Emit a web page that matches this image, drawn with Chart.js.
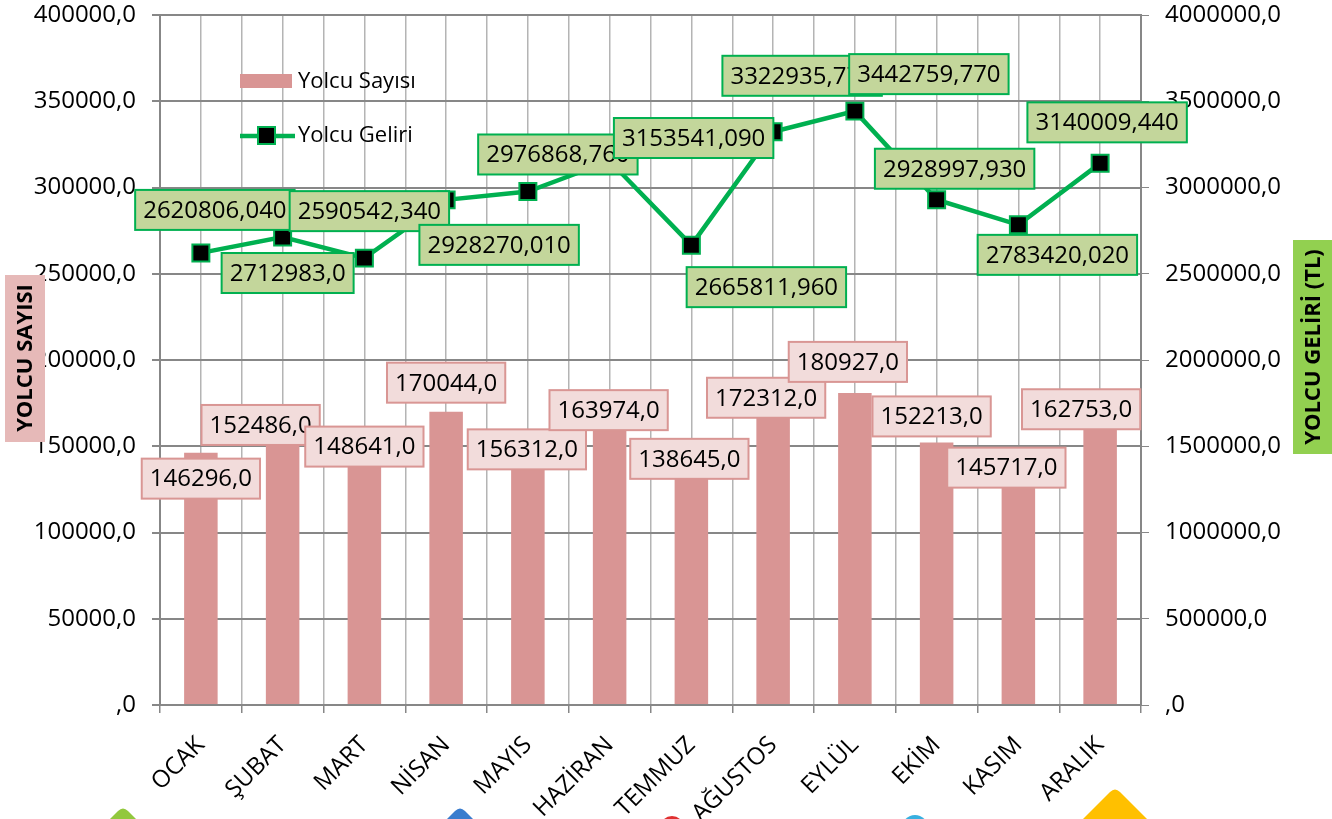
<!DOCTYPE html>
<html>
<head>
<meta charset="utf-8">
<script src="https://cdn.jsdelivr.net/npm/chart.js@4.4.1/dist/chart.umd.min.js"></script>
<style>
body{margin:0;background:#fff;}
#kutu{width:1332px;height:819px;position:relative;}
</style>
</head>
<body>
<div id="kutu"><canvas id="grafik"></canvas></div>
<script>

/* VERILER */

let aylar=["OCAK","ŞUBAT","MART","NİSAN","MAYIS","HAZİRAN","TEMMUZ","AĞUSTOS","EYLÜL","EKİM","KASIM","ARALIK"];

let yolcuSayisi=[146296,152486,148641,170044,156312,163974,138645,172312,180927,152213,145717,162753];

let yolcuGeliri=[2620806.04,2712983,2590542.34,2928270.01,2976868.76,3153541.09,2665811.96,3322935.77,3442759.77,2928997.93,2783420.02,3140009.44];

/* ETIKET KAYDIRMALARI (px, noktaya gore) */

let sayiKaydir=[[0,26],[-22,-17],[0,-2],[0,-29],[-1,14],[-1,-12],[-2,-7],[-7,-10],[-7,-31],[-5,-26],[-12,14],[-19,-15]];
let gelirKaydir=[[14,-43],[5,36],[5,-47],[53,45],[30,-37],[84,-23],[75,42],[29,-56],[74,-37],[18,-31],[39,30],[7,-41]];

let FONT='"Open Sans", "Liberation Sans", sans-serif';

function virgul(v){
let s=v.toFixed(3);
if(s.endsWith(".000")) return (v===0?"":String(Math.round(v)))+",0";
return s.replace(".",",");
}

/* eksenlerin kendi bosluklarini sifirla */
function bosluksuz(s){
s.paddingTop=0;
s.paddingBottom=0;
s.paddingLeft=0;
s.paddingRight=0;
}

/* KUTULU ETIKETLER */

function kutular(chart,index,values,kaydir,dolgu,cizgi){
let ctx=chart.ctx;
let meta=chart.getDatasetMeta(index);
ctx.save();
ctx.font='24px '+FONT;
ctx.textAlign='center';
ctx.textBaseline='middle';
meta.data.forEach((el,i)=>{
let text=virgul(values[i]);
let w=ctx.measureText(text).width+16;
let h=40;
let cx=el.x+kaydir[i][0];
let cy=el.y+kaydir[i][1];
ctx.fillStyle=dolgu;
ctx.fillRect(cx-w/2,cy-h/2,w,h);
ctx.strokeStyle=cizgi;
ctx.lineWidth=2;
ctx.strokeRect(cx-w/2,cy-h/2,w,h);
ctx.fillStyle="#000";
ctx.fillText(text,cx,cy+1);
});
ctx.restore();
}

function ucgen(ctx,x,y,renk,d){
ctx.fillStyle=renk;
ctx.beginPath();
ctx.moveTo(x-d,y+d);
ctx.lineTo(x-5,y+5);
ctx.quadraticCurveTo(x,y,x+5,y+5);
ctx.lineTo(x+d,y+d);
ctx.closePath();
ctx.fill();
}

let eklenti={
id:"etiketler",
afterDatasetsDraw(chart){
kutular(chart,0,yolcuSayisi,sayiKaydir,"#f2dcdb","#d99694");
kutular(chart,1,yolcuGeliri,gelirKaydir,"#c3d69b","#00b050");
},
afterDraw(chart){
let ctx=chart.ctx;
let a=chart.chartArea;
ctx.save();

/* LEJANT */

ctx.font='22px '+FONT;
ctx.textBaseline='middle';
ctx.fillStyle="#d99594";
ctx.fillRect(a.left+80,a.top+59,52,14);
ctx.fillStyle="#000";
ctx.fillText("Yolcu Sayısı",a.left+138,a.top+67);
ctx.strokeStyle="#00b050";
ctx.lineWidth=4.5;
ctx.beginPath();
ctx.moveTo(a.left+80,a.top+121);
ctx.lineTo(a.left+135,a.top+121);
ctx.stroke();
ctx.fillStyle="#000";
ctx.fillRect(a.left+98,a.top+112,17,17);
ctx.lineWidth=2;
ctx.strokeRect(a.left+98,a.top+112,17,17);
ctx.fillStyle="#000";
ctx.fillText("Yolcu Geliri",a.left+138,a.top+121);

/* EKSEN BASLIKLARI */

ctx.font='bold 22px '+FONT;
ctx.textAlign='center';
ctx.fillStyle="#e6b9b8";
ctx.fillRect(5,275,40,167);
ctx.save();
ctx.translate(26,358);
ctx.rotate(-Math.PI/2);
ctx.fillStyle="#000";
ctx.fillText("YOLCU SAYISI",0,0);
ctx.restore();

ctx.fillStyle="#92d050";
ctx.fillRect(1293,240,45,214);
ctx.save();
ctx.translate(1314,347);
ctx.rotate(-Math.PI/2);
ctx.fillStyle="#000";
ctx.fillText("YOLCU GELİRİ (TL)",0,0);
ctx.restore();

/* SLAYT SUSLERI */

ucgen(ctx,123,806,"#92c83e",40);
ucgen(ctx,460,806,"#3a7dce",40);
ucgen(ctx,1115,787,"#ffc000",60);
ctx.fillStyle="#e03030";
ctx.beginPath();ctx.arc(672,828,12,0,Math.PI*2);ctx.fill();
ctx.fillStyle="#38b0e0";
ctx.beginPath();ctx.arc(915,828,13,0,Math.PI*2);ctx.fill();

ctx.restore();
}
};

Chart.defaults.font.family=FONT;
Chart.defaults.color="#000";

new Chart(document.getElementById("grafik"),{

type:'bar',

data:{
labels:aylar,
datasets:[
{
label:"Yolcu Sayısı",
data:yolcuSayisi,
backgroundColor:"#d99594",
barPercentage:0.41,
categoryPercentage:1,
yAxisID:"y",
order:1
},
{
type:'line',
label:"Yolcu Geliri",
data:yolcuGeliri,
borderColor:"#00b050",
borderWidth:4.5,
pointStyle:'rect',
pointRadius:12,
pointBackgroundColor:"#000",
pointBorderColor:"#00b050",
pointBorderWidth:2,
tension:0,
yAxisID:"y1",
order:0
}
]
},

options:{
responsive:true,
maintainAspectRatio:false,
animation:false,
layout:{padding:{top:15,left:0,right:0,bottom:0}},
plugins:{
legend:{display:false},
tooltip:{enabled:false}
},
scales:{
x:{
type:'category',
position:'bottom',
offset:true,
grid:{offset:true,color:"#b4b4b4",lineWidth:1.5,tickLength:8,tickColor:"#878787"},
border:{color:"#878787",width:2},
ticks:{minRotation:45,maxRotation:45,font:{size:24},padding:18,autoSkip:false},
afterFit:s=>{s.height=114;bosluksuz(s);}
},
xOrta:{
type:'category',
position:'top',
offset:true,
grid:{offset:false,color:"#b4b4b4",lineWidth:1.5,drawTicks:false},
border:{display:false},
ticks:{display:false},
afterFit:s=>{s.height=0;bosluksuz(s);}
},
y:{
position:'left',
min:0,
max:400000,
ticks:{stepSize:50000,font:{size:24},padding:16,callback:v=>virgul(v)},
grid:{color:"#878787",lineWidth:2,tickLength:8,tickColor:"#878787"},
border:{color:"#878787",width:2},
afterFit:s=>{s.width=160;bosluksuz(s);}
},
y1:{
position:'right',
min:0,
max:4000000,
ticks:{stepSize:500000,font:{size:24},padding:16,callback:v=>virgul(v)},
grid:{drawOnChartArea:false,tickLength:8,tickColor:"#878787"},
border:{color:"#878787",width:2},
afterFit:s=>{s.width=191;bosluksuz(s);}
}
}
},

plugins:[eklenti]

});

</script>
</body>
</html>
